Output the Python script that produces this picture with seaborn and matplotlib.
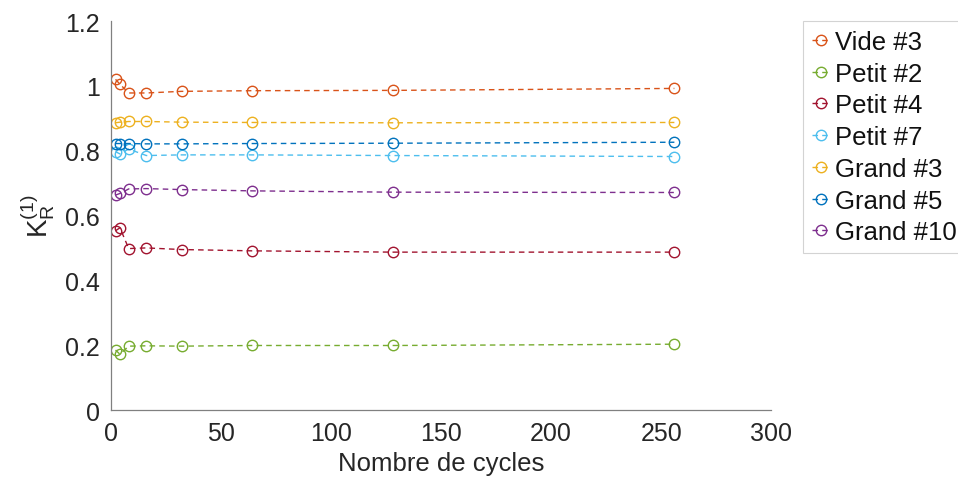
import numpy as np
import pandas as pd
import seaborn as sns
import matplotlib.pyplot as plt
from matplotlib.ticker import FuncFormatter

# Data
cycles = [2, 4, 8, 16, 32, 64, 128, 256]
names = ['Vide #3', 'Petit #2', 'Petit #4', 'Petit #7', 'Grand #3', 'Grand #5', 'Grand #10']
vide3 = [1.020, 1.005, 0.978, 0.978, 0.983, 0.985, 0.986, 0.992]
petit2 = [0.185, 0.172, 0.197, 0.198, 0.197, 0.199, 0.199, 0.203]
petit4 = [0.553, 0.562, 0.498, 0.500, 0.495, 0.491, 0.487, 0.487]
petit7 = [0.797, 0.790, 0.805, 0.785, 0.787, 0.787, 0.785, 0.782]
grand3 = [0.886, 0.888, 0.890, 0.890, 0.888, 0.887, 0.886, 0.887]
grand5 = [0.822, 0.822, 0.822, 0.821, 0.821, 0.822, 0.823, 0.826]
grand10 = [0.663, 0.668, 0.682, 0.683, 0.680, 0.676, 0.672, 0.671]
colors = ['#D95319', '#77AC30', '#A2142F', '#4DBEEE', '#EDB120', '#0072BD', '#7E2F8E']

series = [vide3, petit2, petit4, petit7, grand3, grand5, grand10]
df = pd.DataFrame({
    'cycles': cycles * len(names),
    'K': np.concatenate(series),
    'echantillon': np.repeat(names, len(cycles)),
})

sns.set_style('white')
plt.rcParams['font.family'] = ['Liberation Sans', 'DejaVu Sans']
plt.rcParams['mathtext.fontset'] = 'custom'
plt.rcParams['mathtext.rm'] = 'Liberation Sans'
plt.rcParams['mathtext.it'] = 'Liberation Sans:italic'

fig = plt.figure(figsize=(9.58, 4.89), dpi=100)
ax = fig.add_axes([0.116, 0.1595, 0.689, 0.7955])

sns.lineplot(data=df, x='cycles', y='K', hue='echantillon', hue_order=names,
             palette=colors, marker='o', markersize=7.5, markerfacecolor='none',
             linestyle='--', linewidth=1.0, legend=False, ax=ax)
for line in ax.lines:
    line.set_markeredgecolor(line.get_color())
    line.set_markeredgewidth(1.0)
    line.set_markerfacecolor('none')
    line.set_linestyle((0, (4, 3)))

ax.set_xlim(0, 300)
ax.set_ylim(0, 1.2)
ax.set_xticks(np.arange(0, 301, 50))
ax.set_yticks(np.arange(0, 1.21, 0.2))
ax.yaxis.set_major_formatter(FuncFormatter(lambda v, p: '%g' % round(v, 1)))
ax.tick_params(direction='in', length=5, width=0.8, color='#808080',
               labelsize=18, labelcolor='#262626', pad=8)

for s in ['top', 'right']:
    ax.spines[s].set_visible(False)
for s in ['left', 'bottom']:
    ax.spines[s].set_color('#808080')
    ax.spines[s].set_linewidth(0.9)

ax.set_xlabel('Nombre de cycles', fontsize=18.5, color='#262626', labelpad=4)
ax.set_ylabel(r'$\mathrm{K}_\mathrm{R}^{(1)}$', fontsize=20, color='#262626', labelpad=6)

leg = fig.legend(ax.lines, names, loc='upper left', bbox_to_anchor=(803 / 958, 1 - 22 / 489),
                 frameon=True, fancybox=False, fontsize=18.5, handlelength=0.7,
                 handletextpad=0.2, labelspacing=0.3, borderpad=0.35, borderaxespad=0)
leg.get_frame().set_edgecolor('#c8c8c8')
leg.get_frame().set_linewidth(0.8)
for t in leg.get_texts():
    t.set_color('#111111')

fig.savefig('out.png', dpi=100)
